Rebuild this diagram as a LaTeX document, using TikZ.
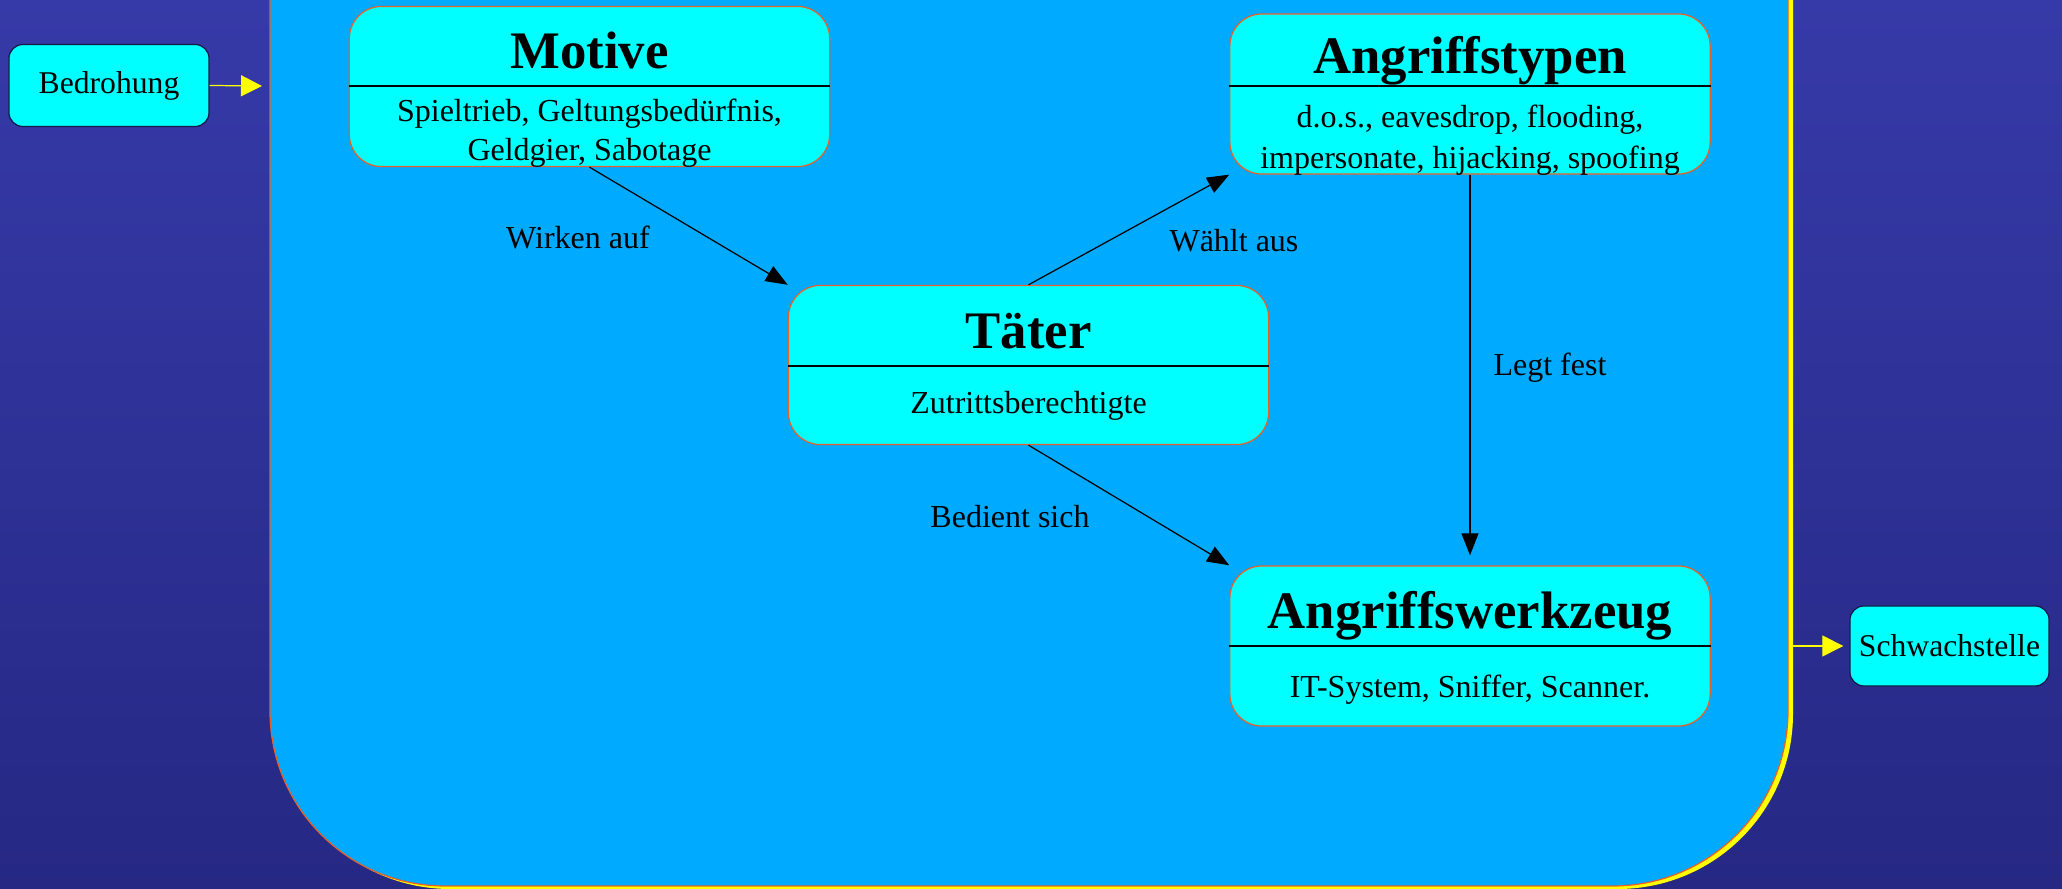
\documentclass[tikz,border=0pt]{standalone}
\usepackage{fontspec}
\setmainfont{Liberation Serif}
\usetikzlibrary{arrows.meta,positioning,calc}
\definecolor{bgoben}{RGB}{54,58,168}
\definecolor{bgmitte}{RGB}{64,74,204}
\definecolor{bgunten}{RGB}{38,40,132}
\definecolor{flaeche}{RGB}{0,170,255}
\definecolor{tuerkis}{RGB}{0,255,255}
\definecolor{randrot}{RGB}{232,96,40}
\definecolor{navy}{RGB}{20,24,70}
\definecolor{gelb}{RGB}{255,255,0}

\tikzset{
  kasten/.style={draw=randrot, fill=tuerkis, rounded corners=0.32cm, inner sep=0pt,
    minimum width=4.8cm, minimum height=1.6cm, line width=0.35pt},
  klein/.style={draw=navy, fill=tuerkis, rounded corners=0.14cm, inner sep=0pt,
    minimum width=2cm, minimum height=0.82cm, line width=0.35pt,
    font=\fontsize{9}{11}\selectfont},
  titel/.style={font=\fontsize{15}{18}\selectfont\bfseries, inner sep=0pt},
  inhalt/.style={font=\fontsize{9.1}{11}\selectfont, align=center, inner sep=0pt},
  beschriftung/.style={font=\fontsize{9.1}{11}\selectfont, inner sep=0pt},
  trenner/.style={line width=0.35pt},
  pfeil/.style={-{Triangle[length=0.22cm,width=0.17cm]}, line width=0.35pt},
  gelbpfeil/.style={gelb, -{Triangle[length=0.21cm,width=0.21cm]}, line width=0.35pt}
}

\begin{document}
\begin{tikzpicture}[x=0.01cm, y=-0.01cm]
\useasboundingbox (0,0) rectangle (2062,889);
\clip (0,0) rectangle (2062,889);
\shade[top color=bgoben, middle color=bgmitte, bottom color=bgunten] (0,0) rectangle (2062,889);

% grosse Flaeche
\fill[gelb, rounded corners=1.75cm] (275,-250) rectangle (1793,889);
\filldraw[fill=flaeche, draw=randrot, line width=0.35pt, rounded corners=1.75cm] (270,-250) rectangle (1788,886);

% Kaesten
\node[kasten] (motive) at (589.5,86.5) {};
\node[titel] (motivetitel) at (589.5,50) {Motive};
\node[inhalt] (motiveinhalt) at (589.5,133) {Spieltrieb, Geltungsbedürfnis,\\Geldgier, Sabotage};
\draw[trenner] (motive.west |- 0,86) -- (motive.east |- 0,86);

\node[kasten] (typen) at (1470,94) {};
\node[titel] (typentitel) at (1470,61) {Angriffstypen};
\node[inhalt, font=\fontsize{9.1}{11.6}\selectfont] (typeninhalt) at (1470,140) {d.o.s., eavesdrop, flooding,\\impersonate, hijacking, spoofing};
\draw[trenner] (typen.west |- 0,86) -- (typen.east |- 0,86);

\node[kasten, minimum height=1.59cm] (taeter) at (1028.5,365) {};
\node[titel] (taetertitel) at (1028.5,331) {Täter};
\node[inhalt] (taeterinhalt) at (1028.5,406) {Zutrittsberechtigte};
\draw[trenner] (taeter.west |- 0,366) -- (taeter.east |- 0,366);

\node[kasten] (werkzeug) at (1470,646) {};
\node[titel] (werkzeugtitel) at (1470,616) {Angriffswerkzeug};
\node[inhalt] (werkzeuginhalt) at (1470,690) {IT-System, Sniffer, Scanner.};
\draw[trenner] (werkzeug.west |- 0,646) -- (werkzeug.east |- 0,646);

\node[klein] (bedrohung) at (109,85.5) {Bedrohung};
\node[klein, minimum width=1.99cm, minimum height=0.8cm] (schwachstelle) at (1949.5,646) {Schwachstelle};
\coordinate (eingang) at (262,86);
\coordinate (ausgang) at (1793,646);

% Verbindungen
\draw[pfeil] (motive.south) -- (taeter.north west);
\draw[pfeil] (taeter.north) -- (typen.south west);
\draw[pfeil] (taeter.south) -- (werkzeug.north west);
\draw[pfeil, shorten >=0.1cm] (typen.south) -- (werkzeug.north);
\draw[gelbpfeil] (bedrohung.east) -- (eingang);
\draw[gelbpfeil, shorten >=0.06cm] (ausgang) -- (schwachstelle.west);

\node[beschriftung] (wirken) at (578,237) {Wirken auf};
\node[beschriftung] (waehlt) at (1234,241) {Wählt aus};
\node[beschriftung] (bedient) at (1010,517) {Bedient sich};
\node[beschriftung] (legt) at (1550,368) {Legt fest};
\end{tikzpicture}
\end{document}
